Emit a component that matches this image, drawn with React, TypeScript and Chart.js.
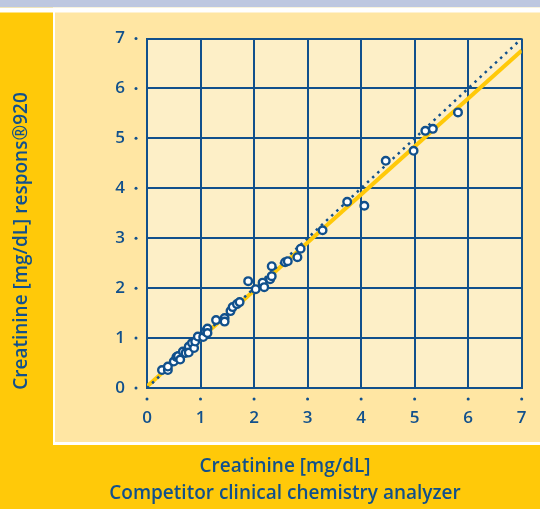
import React, { useEffect, useRef } from "react";
import { Chart, registerables } from "chart.js";

Chart.register(...registerables);

// Data
const competitorX = [0.28, 0.39, 0.39, 0.5, 0.55, 0.58, 0.62, 0.67, 0.72, 0.78, 0.78, 0.84, 0.88, 0.9, 0.95, 1.05, 1.09, 1.13, 1.13, 1.29, 1.45, 1.45, 1.56, 1.6, 1.68, 1.73, 1.89, 2.03, 2.16, 2.19, 2.3, 2.33, 2.33, 2.58, 2.63, 2.81, 2.87, 3.28, 3.74, 4.06, 4.46, 4.98, 5.2, 5.34, 5.81];
const responsY = [0.36, 0.36, 0.43, 0.53, 0.62, 0.64, 0.57, 0.73, 0.7, 0.83, 0.71, 0.9, 0.8, 0.93, 1.03, 1.02, 1.13, 1.19, 1.1, 1.36, 1.4, 1.33, 1.54, 1.62, 1.68, 1.72, 2.14, 1.98, 2.11, 2.02, 2.18, 2.24, 2.44, 2.52, 2.54, 2.62, 2.79, 3.16, 3.73, 3.65, 4.55, 4.75, 5.15, 5.19, 5.52];
const identityX = [0, 7];
const identityY = [0, 7];
const regressionX = [0, 7];
const regressionY = [0.03, 6.76];
const tickValues = [0, 1, 2, 3, 4, 5, 6, 7];
const xTitleLines = ["Creatinine [mg/dL]", "Competitor clinical chemistry analyzer"];
const yTitle = "Creatinine [mg/dL] respons\u00AE920";

const BLUE = "#11508c";
const OUTER = "#ffc909";
const PANEL = "#ffe6a3";
const PLOT = "#fdefc7";
const BAND = "#bdc7e0";
const FONT = "'Open Sans', Lato, sans-serif";

const decorPlugin = {
  id: "decor",
  beforeDraw(chart: any) {
    const { ctx, width, height, chartArea } = chart;
    ctx.save();
    ctx.fillStyle = OUTER;
    ctx.fillRect(0, 0, width, height);
    ctx.fillStyle = BAND;
    ctx.fillRect(0, 0, width, 7.5);
    ctx.fillStyle = "#ffffff";
    ctx.fillRect(0, 7.5, width, 5);
    ctx.fillRect(53, 7.5, width - 53, 445 - 7.5);
    ctx.fillStyle = PANEL;
    ctx.fillRect(55, 12.5, width - 55, 442 - 12.5);
    ctx.fillStyle = PLOT;
    ctx.fillRect(chartArea.left, chartArea.top, chartArea.right - chartArea.left, chartArea.bottom - chartArea.top);
    ctx.restore();
  },
  afterDraw(chart: any) {
    const { ctx, chartArea, scales } = chart;
    ctx.save();
    ctx.fillStyle = BLUE;
    for (const v of tickValues) {
      const px = scales.x.getPixelForValue(v);
      ctx.beginPath();
      ctx.arc(px, chartArea.bottom + 11, 1.5, 0, Math.PI * 2);
      ctx.fill();
      const py = scales.y.getPixelForValue(v);
      ctx.beginPath();
      ctx.arc(chartArea.left - 11, py, 1.5, 0, Math.PI * 2);
      ctx.fill();
    }
    ctx.font = `600 19px ${FONT}`;
    ctx.textAlign = "center";
    ctx.textBaseline = "middle";
    ctx.fillText(xTitleLines[0], 285, 467);
    ctx.fillText(xTitleLines[1], 285, 494);
    ctx.translate(22, 241);
    ctx.rotate(-Math.PI / 2);
    ctx.fillText(yTitle, 0, 0);
    ctx.restore();
  },
};

export default function App() {
  const ref = useRef<HTMLCanvasElement>(null);
  useEffect(() => {
    document.body.style.margin = "0";
    const canvas = ref.current!;
    const chart = new Chart(canvas, {
      type: "scatter",
      data: {
        datasets: [
          {
            label: "Samples",
            data: competitorX.map((x, i) => ({ x, y: responsY[i] })),
            backgroundColor: "#ffffff",
            borderColor: BLUE,
            borderWidth: 2.4,
            pointRadius: 3.8,
            pointHoverRadius: 3.8,
            order: 0,
          },
          {
            label: "Identity",
            type: "line",
            data: identityX.map((x, i) => ({ x, y: identityY[i] })),
            borderColor: BLUE,
            borderWidth: 2.5,
            borderDash: [2.5, 4.5],
            pointRadius: 0,
            fill: false,
            order: 1,
          },
          {
            label: "Regression",
            type: "line",
            data: regressionX.map((x, i) => ({ x, y: regressionY[i] })),
            borderColor: OUTER,
            borderWidth: 4,
            pointRadius: 0,
            fill: false,
            order: 2,
          },
        ],
      },
      options: {
        responsive: false,
        animation: false,
        maintainAspectRatio: false,
        layout: { padding: { left: 0, top: 38.5, right: 18.3, bottom: 0 } },
        plugins: { legend: { display: false }, tooltip: { enabled: false } },
        scales: {
          x: {
            type: "linear",
            min: 0,
            max: 7,
            afterFit: (s: any) => { s.height = 121; s.paddingRight = 0; s.paddingLeft = 0; },
            ticks: { stepSize: 1, color: BLUE, padding: 20, font: { family: FONT, size: 17, weight: "600" } },
            grid: { color: BLUE, lineWidth: 2, drawTicks: false },
            border: { color: BLUE, width: 2 },
          },
          y: {
            type: "linear",
            min: 0,
            max: 7,
            afterFit: (s: any) => { s.width = 147; s.paddingTop = 0; s.paddingBottom = 0; },
            ticks: { stepSize: 1, color: BLUE, padding: 22, font: { family: FONT, size: 17, weight: "600" } },
            grid: { color: BLUE, lineWidth: 2, drawTicks: false },
            border: { color: BLUE, width: 2 },
          },
        },
      },
      plugins: [decorPlugin],
    });
    return () => chart.destroy();
  }, []);
  return <canvas ref={ref} width={540} height={509} style={{ display: "block" }} />;
}
